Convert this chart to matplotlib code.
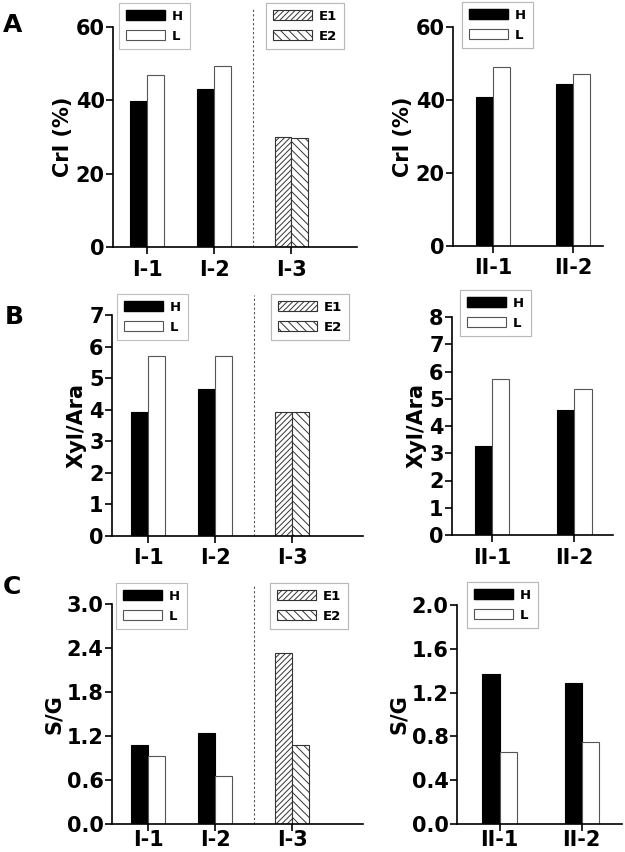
import matplotlib
matplotlib.use("Agg")
import matplotlib.pyplot as plt
from matplotlib.patches import Patch

plt.rcParams["font.family"] = "DejaVu Sans"
plt.rcParams["font.weight"] = "bold"
plt.rcParams["hatch.linewidth"] = 0.7
plt.rcParams["hatch.color"] = "#333333"

# ---- data ----
left_groups = ["I-1", "I-2", "I-3"]
right_groups = ["II-1", "II-2"]

cri_H_left = [39.8, 43.2]
cri_L_left = [47.0, 49.4]
cri_E1 = 29.9
cri_E2 = 29.8
cri_H_right = [40.7, 44.3]
cri_L_right = [49.1, 47.1]

xa_H_left = [3.94, 4.66]
xa_L_left = [5.70, 5.70]
xa_E1 = 3.94
xa_E2 = 3.94
xa_H_right = [3.25, 4.59]
xa_L_right = [5.71, 5.35]

sg_H_left = [1.08, 1.24]
sg_L_left = [0.93, 0.66]
sg_E1 = 2.33
sg_E2 = 1.08
sg_H_right = [1.37, 1.29]
sg_L_right = [0.66, 0.75]

W, H = 625, 852
fig = plt.figure(figsize=(W / 100, H / 100), dpi=100)


def px_axes(x0, x1, ytop, ybot):
    return fig.add_axes([x0 / W, 1 - ybot / H, (x1 - x0) / W, (ybot - ytop) / H])


def style(ax, ylabel, yticks, ylim, ticklabels, xpad=4):
    ax.spines["top"].set_visible(False)
    ax.spines["right"].set_visible(False)
    ax.spines["left"].set_linewidth(1.2)
    ax.spines["bottom"].set_linewidth(1.2)
    ax.set_ylim(*ylim)
    ax.set_yticks(yticks)
    ax.set_yticklabels(ticklabels)
    ax.tick_params(axis="y", length=5, width=1.2, pad=1, labelsize=15)
    ax.tick_params(axis="x", length=5, width=1.2, pad=xpad, labelsize=15)
    ax.set_ylabel(ylabel, fontsize=15, fontweight="bold", labelpad=2)


def legend(ax, handles, labels, x, y):
    leg = ax.legend(handles, labels, loc="upper left",
                    bbox_to_anchor=(x / W, 1 - y / H), bbox_transform=fig.transFigure,
                    borderaxespad=0, fontsize=9.5, handlelength=3.0, handleheight=0.8,
                    handletextpad=0.5, labelspacing=0.55, borderpad=0.5,
                    fancybox=False, frameon=True)
    leg.get_frame().set_edgecolor("#b0b0b0")
    leg.get_frame().set_linewidth(0.8)
    for t in leg.get_texts():
        t.set_fontweight("bold")
    ax.add_artist(leg)


hl_handles = [Patch(facecolor="black", edgecolor="black"),
              Patch(facecolor="white", edgecolor="#555555", linewidth=0.8)]
e_handles = [Patch(facecolor="white", edgecolor="#333333", hatch="//////", linewidth=0.8),
             Patch(facecolor="white", edgecolor="#333333", hatch="\\\\\\\\", linewidth=0.8)]

left_x = [0, 1, 2.15]
divider = 1.58
bw_left = 0.25
right_x = [0, 1]
bw_right = 0.21


def left_panel(ax, hv, lv, e1, e2, xlim):
    ax.bar([left_x[0] - bw_left / 2, left_x[1] - bw_left / 2], hv, bw_left,
           color="black", edgecolor="black", linewidth=0.8)
    ax.bar([left_x[0] + bw_left / 2, left_x[1] + bw_left / 2], lv, bw_left,
           color="white", edgecolor="#555555", linewidth=0.8)
    ax.bar(left_x[2] - bw_left / 2, e1, bw_left, color="white",
           edgecolor="#333333", hatch="//////", linewidth=0.8)
    ax.bar(left_x[2] + bw_left / 2, e2, bw_left, color="white",
           edgecolor="#333333", hatch="\\\\\\\\", linewidth=0.8)
    ax.axvline(divider, ymin=0, ymax=1.09, color="#555555", linewidth=0.8,
               linestyle=(0, (2, 2)), clip_on=False)
    ax.set_xlim(*xlim)
    ax.set_xticks(left_x)
    ax.set_xticklabels(left_groups)


def right_panel(ax, hv, lv, xlim):
    ax.bar([x - bw_right / 2 for x in right_x], hv, bw_right,
           color="black", edgecolor="black", linewidth=0.8)
    ax.bar([x + bw_right / 2 for x in right_x], lv, bw_right,
           color="white", edgecolor="#555555", linewidth=0.8)
    ax.set_xlim(*xlim)
    ax.set_xticks(right_x)
    ax.set_xticklabels(right_groups)


# ---- A ----
ax = px_axes(113, 357, 27, 247)
left_panel(ax, cri_H_left, cri_L_left, cri_E1, cri_E2, (-0.51, 3.13))
style(ax, "CrI (%)", [0, 20, 40, 60], (0, 60), ["0", "20", "40", "60"])
legend(ax, hl_handles, ["H", "L"], 119, 3)
legend(ax, e_handles, ["E1", "E2"], 266, 3)

ax = px_axes(453, 603, 27, 246)
right_panel(ax, cri_H_right, cri_L_right, (-0.5, 1.375))
style(ax, "CrI (%)", [0, 20, 40, 60], (0, 60), ["0", "20", "40", "60"])
legend(ax, hl_handles, ["H", "L"], 462, 2)

# ---- B ----
ax = px_axes(112, 363, 315, 536)
left_panel(ax, xa_H_left, xa_L_left, xa_E1, xa_E2, (-0.54, 3.21))
style(ax, "Xyl/Ara", range(8), (0, 7), [str(i) for i in range(8)])
legend(ax, hl_handles, ["H", "L"], 117, 294)
legend(ax, e_handles, ["E1", "E2"], 271, 294)

ax = px_axes(452, 613, 317, 535)
right_panel(ax, xa_H_right, xa_L_right, (-0.49, 1.47))
style(ax, "Xyl/Ara", range(9), (0, 8), [str(i) for i in range(9)])
legend(ax, hl_handles, ["H", "L"], 460, 290)

# ---- C ----
ax = px_axes(112, 363, 604, 824)
left_panel(ax, sg_H_left, sg_L_left, sg_E1, sg_E2, (-0.54, 3.21))
ct = [0.0, 0.6, 1.2, 1.8, 2.4, 3.0]
style(ax, "S/G", ct, (0, 3.0), [f"{v:.1f}" for v in ct], xpad=-1)
legend(ax, hl_handles, ["H", "L"], 116, 583)
legend(ax, e_handles, ["E1", "E2"], 270, 583)

ax = px_axes(457, 622, 605, 824)
right_panel(ax, sg_H_right, sg_L_right, (-0.52, 1.49))
rt = [0.0, 0.4, 0.8, 1.2, 1.6, 2.0]
style(ax, "S/G", rt, (0, 2.0), [f"{v:.1f}" for v in rt], xpad=-1)
legend(ax, hl_handles, ["H", "L"], 467, 582)

# panel letters
for letter, x, y in [("A", 3, 13), ("B", 5, 305), ("C", 3, 575)]:
    fig.text(x / W, 1 - y / H, letter, fontsize=18, fontweight="bold", va="top", ha="left")

fig.savefig("out.png", dpi=100)
